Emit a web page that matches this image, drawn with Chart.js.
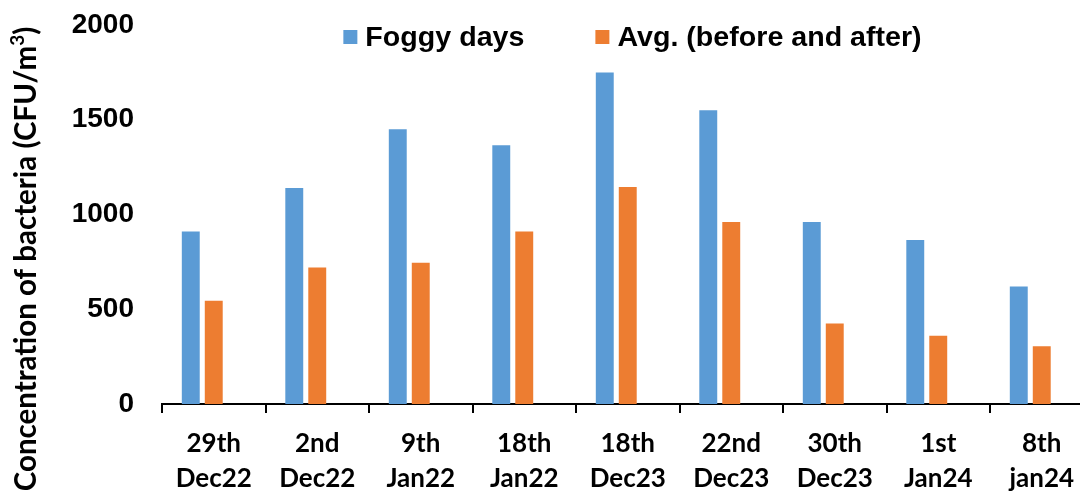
<!DOCTYPE html>
<html>
<head>
<meta charset="utf-8">
<script src="https://cdn.jsdelivr.net/npm/chart.js@4.4.1/dist/chart.umd.min.js"></script>
<style>
  html, body { margin: 0; padding: 0; background: #fff; overflow: hidden; }
  #wrap { position: relative; width: 1100px; height: 493px; }
</style>
</head>
<body>
<div id="wrap"><canvas id="c"></canvas></div>
<script>
// Sampling dates (two-line axis labels)
const categories = [
  ['29th', 'Dec22'], ['2nd', 'Dec22'], ['9th', 'Jan22'], ['18th', 'Jan22'],
  ['18th', 'Dec23'], ['22nd', 'Dec23'], ['30th', 'Dec23'], ['1st', 'Jan24'], ['8th', 'jan24']
];
// Airborne bacteria, CFU/m3
const foggyDays      = [910, 1140, 1450, 1365, 1750, 1550, 960, 865, 620];
const avgBeforeAfter = [545, 720, 745, 910, 1145, 960, 425, 360, 305];
const seriesNames = ['Foggy days', 'Avg. (before and after)'];
const yTickValues = [0, 500, 1000, 1500, 2000];

const BLUE = '#5B9BD5';
const ORANGE = '#ED7D31';
const ARIAL = '"Liberation Sans", Arial, sans-serif';
const HUMANIST = 'Lato, "Open Sans", sans-serif';

// Rotated y-axis title with a superscript 3
const yTitlePlugin = {
  id: 'yTitle',
  afterDraw(chart) {
    const ctx = chart.ctx;
    const main = 'Concentration of bacteria (CFU/m';
    const sup = '3';
    const tail = ')';
    const big = 'bold 29.5px ' + HUMANIST;
    const small = 'bold 19px ' + HUMANIST;
    ctx.save();
    ctx.translate(36, 259);
    ctx.rotate(-Math.PI / 2);
    ctx.fillStyle = '#000';
    ctx.textAlign = 'left';
    ctx.textBaseline = 'alphabetic';
    ctx.font = big;
    const w1 = ctx.measureText(main).width;
    const w3 = ctx.measureText(tail).width;
    ctx.font = small;
    const w2 = ctx.measureText(sup).width;
    let x = -(w1 + w2 + w3) / 2;
    ctx.font = big;
    ctx.fillText(main, x, 0); x += w1;
    ctx.font = small;
    ctx.fillText(sup, x, -12); x += w2;
    ctx.font = big;
    ctx.fillText(tail, x, 0);
    ctx.restore();
  }
};

// Single-row legend drawn over the top of the plot
const legendRowPlugin = {
  id: 'legendRow',
  afterDraw(chart) {
    const ctx = chart.ctx;
    const items = chart.data.datasets.filter(d => d.label);
    const box = 14, textGap = 8, itemGap = 71, sx = 1.06;
    ctx.save();
    ctx.font = 'bold 27px ' + ARIAL;
    ctx.textBaseline = 'alphabetic';
    ctx.textAlign = 'left';
    const widths = items.map(d => ctx.measureText(d.label).width * sx);
    const total = widths.reduce((a, w) => a + box + textGap + w, 0) + itemGap * (items.length - 1);
    let x = 632.5 - total / 2;
    items.forEach((d, i) => {
      ctx.fillStyle = d.backgroundColor;
      ctx.fillRect(x, 30, box, box);
      ctx.fillStyle = '#000';
      ctx.save();
      ctx.translate(x + box + textGap, 46);
      ctx.scale(sx, 1);
      ctx.fillText(d.label, 0, 0);
      ctx.restore();
      x += box + textGap + widths[i] + itemGap;
    });
    ctx.restore();
  }
};

new Chart(document.getElementById('c'), {
  type: 'bar',
  data: {
    labels: categories,
    datasets: [
      { label: seriesNames[0], data: foggyDays, backgroundColor: BLUE },
      { label: seriesNames[1], data: avgBeforeAfter, backgroundColor: ORANGE },
      // empty third slot keeps the pair left of each category centre
      { label: '', data: categories.map(() => null), backgroundColor: 'rgba(0,0,0,0)' }
    ]
  },
  options: {
    responsive: true,
    maintainAspectRatio: false,
    animation: false,
    layout: { padding: { top: 25, right: 6.5, left: 0, bottom: 0 } },
    datasets: {
      bar: { categoryPercentage: 0.666, barPercentage: 0.78 }
    },
    plugins: {
      legend: { display: false },
      tooltip: { enabled: false }
    },
    scales: {
      x: {
        offset: true,
        grid: {
          display: true,
          offset: true,
          drawOnChartArea: false,
          drawTicks: true,
          tickLength: 9,
          color: '#000',
          lineWidth: 2
        },
        border: { display: true, color: '#000', width: 2 },
        ticks: {
          color: '#000',
          padding: 13,
          maxRotation: 0,
          autoSkip: false,
          font: { family: HUMANIST, size: 26, weight: 'bold', lineHeight: 35 / 26 }
        },
        afterFit(s) { s.height = 89; }
      },
      y: {
        min: 0,
        max: 2000,
        grid: { display: false },
        border: { display: false },
        ticks: {
          color: '#000',
          padding: 20,
          font: { family: ARIAL, size: 28, weight: 'bold' },
          callback: v => String(v)
        },
        afterBuildTicks(s) { s.ticks = yTickValues.map(v => ({ value: v })); },
        afterFit(s) {
          s.width = 162;
          s.paddingTop = 0;
          s.paddingBottom = 0;
        }
      }
    }
  },
  plugins: [yTitlePlugin, legendRowPlugin]
});
</script>
</body>
</html>
